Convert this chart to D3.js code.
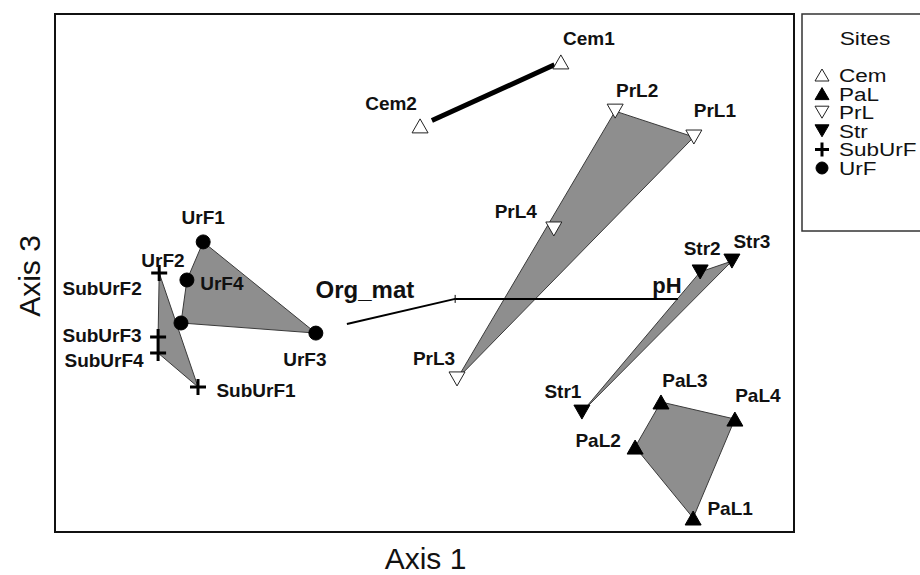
<!DOCTYPE html>
<html>
<head>
<meta charset="utf-8">
<script src="https://cdn.jsdelivr.net/npm/d3@7"></script>
<style>
  html, body { margin: 0; padding: 0; background: #fff; }
  svg { display: block; font-family: "Liberation Sans", Arial, sans-serif; }
</style>
</head>
<body>
<svg id="chart" width="920" height="575"></svg>
<script>
// Ordination scores (Axis 1, Axis 3) for each sampling site
const sites = ["Cem1", "Cem2", "PrL1", "PrL2", "PrL3", "PrL4", "Str1", "Str2", "Str3",
               "PaL1", "PaL2", "PaL3", "PaL4", "UrF1", "UrF2", "UrF3", "UrF4",
               "SubUrF1", "SubUrF2", "SubUrF3", "SubUrF4"];
const groups = ["Cem", "Cem", "PrL", "PrL", "PrL", "PrL", "Str", "Str", "Str",
                "PaL", "PaL", "PaL", "PaL", "UrF", "UrF", "UrF", "UrF",
                "SubUrF", "SubUrF", "SubUrF", "SubUrF"];
const axis1 = [0.369, -0.012, 0.729, 0.516, 0.088, 0.350, 0.426, 0.746, 0.832,
               0.727, 0.570, 0.640, 0.840, -0.599, -0.659, -0.294, -0.643,
               -0.613, -0.718, -0.721, -0.721];
const axis3 = [0.815, 0.568, 0.525, 0.625, -0.409, 0.170, -0.537, 0.004, 0.046,
               -0.946, -0.672, -0.498, -0.564, 0.120, -0.193, -0.232, -0.027,
               -0.440, 0.000, -0.247, -0.309];

// Environmental vectors (origin and tip on the same axes)
const vectorNames = ["Org_mat", "pH"];
const vectorOrigin = [0.083, -0.100];
const vectorAxis1 = [-0.210, 0.686];
const vectorAxis3 = [-0.197, -0.100];

// Legend entries
const legendGroups = ["Cem", "PaL", "PrL", "Str", "SubUrF", "UrF"];

const svg = d3.select("#chart");
const frame = { left: 55, right: 794, top: 14, bottom: 532 };

const x = d3.scaleLinear().domain([-1, 1]).range([frame.left, frame.right]);
const y = d3.scaleLinear().domain([-1, 1]).range([frame.bottom, frame.top]);

const points = sites.map((name, i) => ({ name, group: groups[i], px: x(axis1[i]), py: y(axis3[i]) }));

// Symbol drawing per group
const tri = (w, h, up) => up
  ? `M0,${-h / 2}L${w / 2},${h / 2}L${-w / 2},${h / 2}Z`
  : `M0,${h / 2}L${w / 2},${-h / 2}L${-w / 2},${-h / 2}Z`;
const symbolStyle = {
  Cem:    { d: tri(16, 14, true),  fill: "#fff", stroke: "#222", sw: 1 },
  PaL:    { d: tri(16, 14, true),  fill: "#000", stroke: "#000", sw: 1 },
  PrL:    { d: tri(16, 14, false), fill: "#fff", stroke: "#222", sw: 1 },
  Str:    { d: tri(16, 14, false), fill: "#000", stroke: "#000", sw: 1 },
  SubUrF: { d: "M-8,0H8M0,-8V8", fill: "none", stroke: "#000", sw: 3 },
  UrF:    { d: d3.symbol(d3.symbolCircle, Math.PI * 49)(), fill: "#000", stroke: "#000", sw: 1 }
};

// Convex hulls for groups with three or more sites
const hullGroups = ["PrL", "Str", "PaL", "UrF", "SubUrF"];
const plot = svg.append("g");
hullGroups.forEach(g => {
  const pts = points.filter(p => p.group === g).map(p => [p.px, p.py]);
  const hull = d3.polygonHull(pts);
  plot.append("path")
    .attr("d", "M" + hull.join("L") + "Z")
    .attr("fill", "#8e8e8e")
    .attr("stroke", "#3a3a3a")
    .attr("stroke-width", 1);
});

// Two-site group drawn as a heavy segment
{
  const [a, b] = ["Cem2", "Cem1"].map(n => points.find(p => p.name === n));
  const dx = b.px - a.px, dy = b.py - a.py, len = Math.hypot(dx, dy);
  const t0 = 13 / len, t1 = 1 - 7 / len;
  plot.append("line")
    .attr("x1", a.px + dx * t0).attr("y1", a.py + dy * t0)
    .attr("x2", a.px + dx * t1).attr("y2", a.py + dy * t1)
    .attr("stroke", "#000").attr("stroke-width", 5);
}

// Environmental vectors
const ox = x(vectorOrigin[0]), oy = y(vectorOrigin[1]);
vectorNames.forEach((n, i) => {
  plot.append("line")
    .attr("x1", ox).attr("y1", oy)
    .attr("x2", x(vectorAxis1[i])).attr("y2", y(vectorAxis3[i]))
    .attr("stroke", "#000").attr("stroke-width", 2);
});
plot.append("line")
  .attr("x1", ox).attr("x2", ox).attr("y1", oy - 4).attr("y2", oy + 4)
  .attr("stroke", "#000").attr("stroke-width", 1);

const vecLabelOffset = { Org_mat: [18, -26], pH: [-11, -6] };
const vecLabelSize = { Org_mat: 24, pH: 22 };
vectorNames.forEach((n, i) => {
  const o = vecLabelOffset[n];
  plot.append("text")
    .attr("x", x(vectorAxis1[i]) + o[0]).attr("y", y(vectorAxis3[i]) + o[1])
    .attr("text-anchor", "middle")
    .attr("font-size", vecLabelSize[n]).attr("font-weight", "bold")
    .attr("fill", "#111")
    .text(n);
});

// Site markers
plot.selectAll("path.site").data(points).join("path")
  .attr("class", "site")
  .attr("transform", d => `translate(${d.px},${d.py})`)
  .attr("d", d => symbolStyle[d.group].d)
  .attr("fill", d => symbolStyle[d.group].fill)
  .attr("stroke", d => symbolStyle[d.group].stroke)
  .attr("stroke-width", d => symbolStyle[d.group].sw);

// Site labels placed around their markers
const labelOffset = {
  Cem1: [28, -17], Cem2: [-29, -16], PrL1: [21, -20], PrL2: [22, -14], PrL3: [-23, -14],
  PrL4: [-38, -11], Str1: [-19, -14], Str2: [2, -17], Str3: [20, -13],
  PaL1: [37, -3], PaL2: [-37, 0], PaL3: [24, -15], PaL4: [23, -17],
  UrF1: [0, -18], UrF2: [-18, -56], UrF3: [-11, 33], UrF4: [35, 10],
  SubUrF1: [58, 10], SubUrF2: [-57, 22], SubUrF3: [-56, 5], SubUrF4: [-54, 14]
};
plot.selectAll("text.site").data(points).join("text")
  .attr("class", "site")
  .attr("x", d => d.px + labelOffset[d.name][0])
  .attr("y", d => d.py + labelOffset[d.name][1])
  .attr("text-anchor", "middle")
  .attr("font-size", 19).attr("font-weight", "bold")
  .attr("fill", "#111")
  .text(d => d.name);

// Plot frame
svg.append("rect")
  .attr("x", frame.left).attr("y", frame.top)
  .attr("width", frame.right - frame.left).attr("height", frame.bottom - frame.top)
  .attr("fill", "none").attr("stroke", "#111").attr("stroke-width", 2);

// Axis titles
svg.append("text")
  .attr("x", (frame.left + frame.right) / 2 + 1).attr("y", 569)
  .attr("text-anchor", "middle").attr("font-size", 30).attr("fill", "#111")
  .text("Axis 1");
svg.append("text")
  .attr("transform", `translate(40,${(frame.top + frame.bottom) / 2 + 3}) rotate(-90)`)
  .attr("text-anchor", "middle").attr("font-size", 30).attr("fill", "#111")
  .text("Axis 3");

// Legend
const lg = svg.append("g");
lg.append("rect").attr("x", 802).attr("y", 14).attr("width", 130).attr("height", 217)
  .attr("fill", "#fff").attr("stroke", "#333").attr("stroke-width", 1.5);
lg.append("text")
  .attr("transform", "translate(865,45) scale(1.2,1)")
  .attr("text-anchor", "middle")
  .attr("font-size", 19).attr("fill", "#111").text("Sites");
const legendSym = {
  Cem: tri(14, 12, true), PaL: tri(14, 12, true), PrL: tri(14, 12, false),
  Str: tri(14, 12, false), SubUrF: "M-7,0H7M0,-7V7", UrF: d3.symbol(d3.symbolCircle, Math.PI * 36)()
};
legendGroups.forEach((g, i) => {
  const by = 82 + i * 18.6;
  const st = symbolStyle[g];
  lg.append("path")
    .attr("transform", `translate(822,${by - 7})`)
    .attr("d", legendSym[g])
    .attr("fill", st.fill).attr("stroke", st.stroke)
    .attr("stroke-width", g === "SubUrF" ? 3 : 1);
  lg.append("text")
    .attr("transform", `translate(839,${by}) scale(1.25,1)`)
    .attr("font-size", 18).attr("fill", "#111").text(g);
});
</script>
</body>
</html>
